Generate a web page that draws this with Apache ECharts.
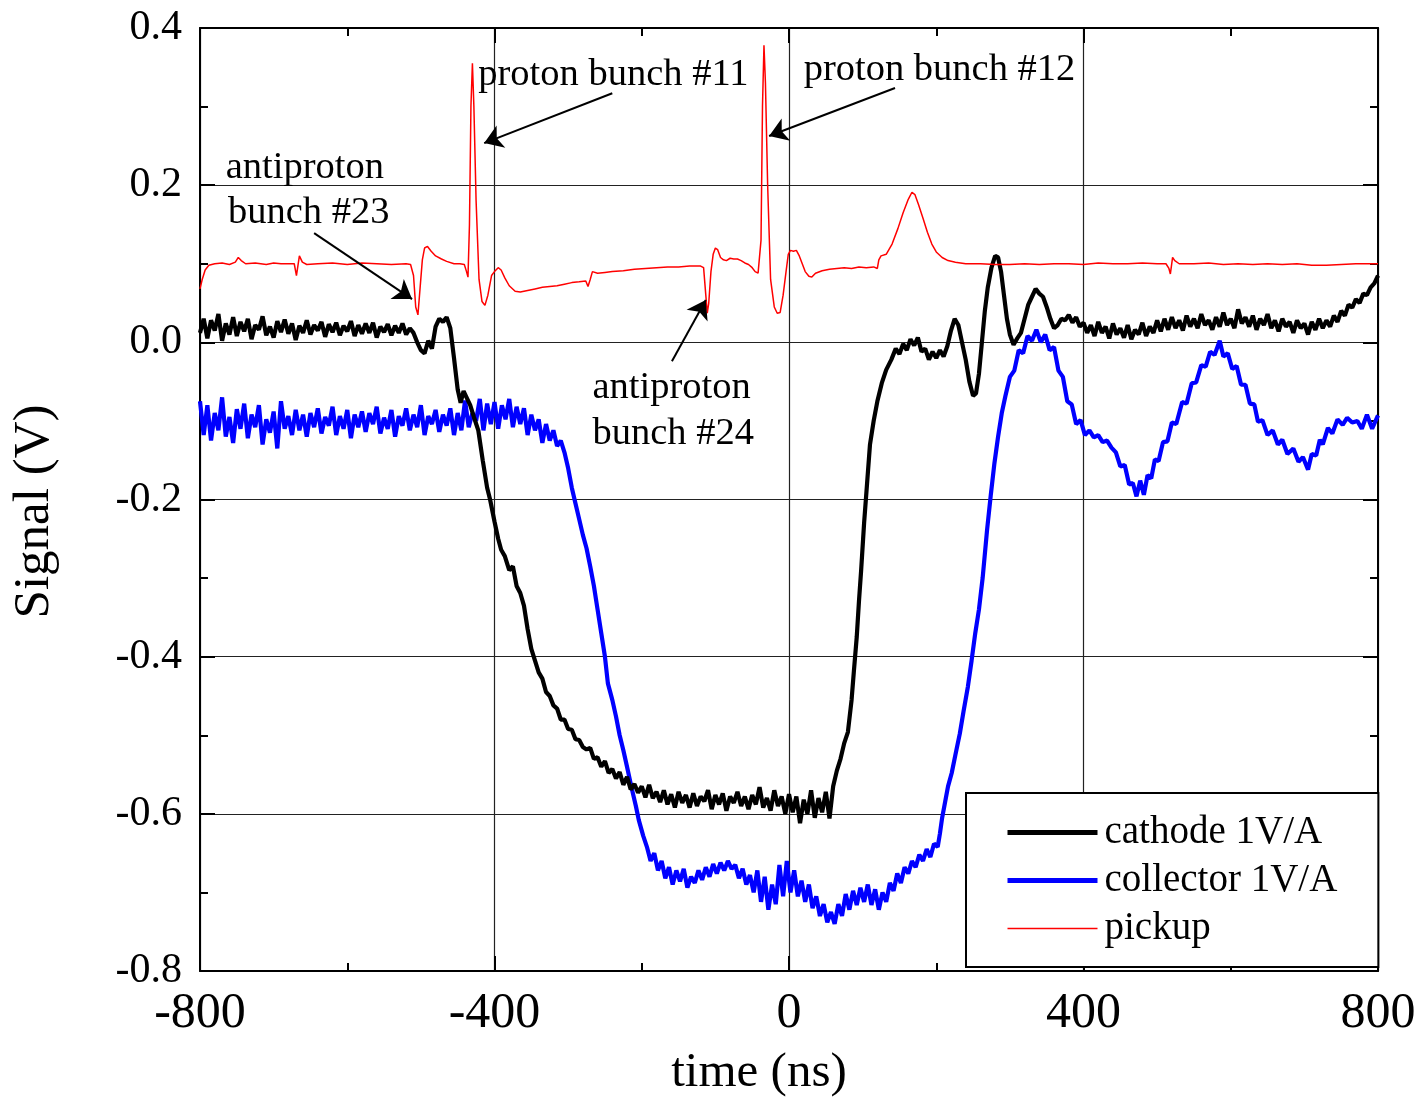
<!DOCTYPE html>
<html><head><meta charset="utf-8">
<script src="https://cdn.jsdelivr.net/npm/echarts@6/dist/echarts.min.js"></script>
<style>html,body{margin:0;padding:0;background:#fff}#c{width:1422px;height:1098px}</style>
</head><body><div id="c"></div>
<script>
// ---- data (time in ns, signal in V) ----
const cathode = [
[-800,0.012],[-795,0.030],[-790,0.005],[-785,0.028],[-780,0.015],[-775,0.036],[-770,0.002],[-765,0.024],[-760,0.010],[-755,0.032],
[-750,0.008],[-745,0.026],[-740,0.014],[-735,0.030],[-730,0.004],[-725,0.022],[-720,0.016],[-715,0.033],[-710,0.009],[-705,0.020],
[-700,0.006],[-695,0.027],[-690,0.013],[-685,0.029],[-680,0.011],[-675,0.024],[-670,0.003],[-665,0.021],[-660,0.012],[-655,0.028],
[-650,0.010],[-645,0.022],[-640,0.015],[-635,0.026],[-630,0.007],[-625,0.023],[-620,0.013],[-615,0.025],[-610,0.009],[-605,0.021],
[-600,0.014],[-595,0.027],[-590,0.008],[-585,0.022],[-580,0.011],[-575,0.024],[-570,0.012],[-565,0.025],[-560,0.006],[-555,0.020],
[-550,0.013],[-545,0.023],[-540,0.009],[-535,0.021],[-530,0.012],[-525,0.024],[-520,0.010],[-515,0.018],[-510,0.012],[-505,0.000],
[-500,-0.010],[-495,-0.014],[-490,0.002],[-485,-0.008],[-480,0.020],[-475,0.030],[-470,0.026],[-465,0.032],[-460,0.018],[-455,-0.020],
[-450,-0.060],[-446,-0.077],[-442,-0.062],[-438,-0.070],[-433,-0.080],[-428,-0.095],[-422,-0.112],[-416,-0.150],[-410,-0.185],[-406,-0.200],
[-400,-0.228],[-395,-0.250],[-391,-0.264],[-386,-0.272],[-380,-0.290],[-375,-0.285],[-370,-0.310],[-365,-0.319],[-360,-0.335],[-355,-0.365],
[-350,-0.390],[-345,-0.405],[-340,-0.420],[-335,-0.428],[-330,-0.445],[-325,-0.450],[-320,-0.462],[-315,-0.466],[-310,-0.480],[-305,-0.480],
[-300,-0.492],[-295,-0.493],[-290,-0.505],[-285,-0.506],[-280,-0.515],[-275,-0.518],[-270,-0.516],[-265,-0.530],[-260,-0.528],[-255,-0.540],
[-250,-0.533],[-245,-0.548],[-240,-0.543],[-235,-0.555],[-230,-0.547],[-225,-0.563],[-220,-0.553],[-215,-0.569],[-210,-0.562],[-205,-0.573],
[-200,-0.565],[-195,-0.579],[-190,-0.563],[-185,-0.580],[-180,-0.572],[-175,-0.585],[-170,-0.570],[-165,-0.588],[-160,-0.575],[-155,-0.592],
[-150,-0.572],[-145,-0.586],[-140,-0.576],[-135,-0.592],[-130,-0.574],[-125,-0.590],[-120,-0.578],[-115,-0.584],[-110,-0.570],[-105,-0.594],
[-100,-0.576],[-95,-0.588],[-90,-0.574],[-85,-0.596],[-80,-0.578],[-75,-0.586],[-70,-0.572],[-65,-0.590],[-60,-0.578],[-55,-0.594],
[-50,-0.576],[-45,-0.588],[-40,-0.566],[-35,-0.592],[-30,-0.580],[-25,-0.596],[-20,-0.570],[-15,-0.590],[-10,-0.578],[-5,-0.600],
[0,-0.575],[5,-0.598],[10,-0.578],[15,-0.612],[20,-0.582],[25,-0.600],[30,-0.570],[35,-0.605],[40,-0.580],[45,-0.598],
[50,-0.572],[55,-0.606],[60,-0.565],[65,-0.545],[70,-0.530],[75,-0.510],[80,-0.496],[85,-0.455],[88,-0.420],[92,-0.375],
[95,-0.330],[98,-0.290],[102,-0.230],[106,-0.180],[110,-0.130],[115,-0.100],[120,-0.075],[126,-0.052],[132,-0.035],[139,-0.022],
[145,-0.008],[150,-0.015],[155,-0.002],[160,-0.010],[165,0.004],[170,-0.004],[175,0.006],[180,-0.012],[185,-0.008],[190,-0.022],
[195,-0.012],[200,-0.020],[205,-0.010],[210,-0.018],[215,-0.005],[220,0.015],[225,0.030],[230,0.022],[235,0.000],[240,-0.022],
[245,-0.050],[250,-0.068],[254,-0.065],[258,-0.040],[262,0.000],[266,0.040],[270,0.070],[275,0.095],[280,0.110],[284,0.108],
[288,0.090],[292,0.060],[296,0.030],[300,0.010],[305,-0.003],[310,0.005],[315,0.012],[320,0.030],[325,0.048],[330,0.058],
[335,0.068],[340,0.062],[345,0.058],[350,0.045],[355,0.030],[360,0.018],[365,0.022],[370,0.030],[375,0.028],[380,0.035],
[385,0.025],[390,0.032],[395,0.020],[400,0.025],[405,0.012],[410,0.022],[415,0.008],[420,0.026],[425,0.012],[430,0.020],
[435,0.005],[440,0.024],[445,0.010],[450,0.018],[455,0.006],[460,0.022],[465,0.004],[470,0.016],[475,0.010],[480,0.025],
[485,0.008],[490,0.020],[495,0.012],[500,0.028],[505,0.014],[510,0.030],[515,0.016],[520,0.032],[525,0.018],[530,0.028],
[535,0.015],[540,0.034],[545,0.020],[550,0.030],[555,0.018],[560,0.036],[565,0.022],[570,0.028],[575,0.016],[580,0.032],
[585,0.020],[590,0.038],[595,0.022],[600,0.030],[605,0.018],[610,0.042],[615,0.024],[620,0.032],[625,0.020],[630,0.034],
[635,0.016],[640,0.030],[645,0.022],[650,0.036],[655,0.018],[660,0.028],[665,0.014],[670,0.030],[675,0.020],[680,0.026],
[685,0.012],[690,0.028],[695,0.018],[700,0.024],[705,0.010],[710,0.026],[715,0.016],[720,0.030],[725,0.018],[730,0.028],
[735,0.020],[740,0.034],[745,0.026],[750,0.040],[755,0.034],[760,0.048],[765,0.044],[770,0.055],[775,0.050],[780,0.062],
[785,0.060],[790,0.070],[795,0.075],[800,0.085]
];
const collector = [
[-800,-0.075],[-795,-0.118],[-790,-0.080],[-785,-0.125],[-780,-0.090],[-775,-0.112],[-770,-0.070],[-765,-0.120],[-760,-0.095],[-755,-0.128],
[-750,-0.085],[-745,-0.110],[-740,-0.078],[-735,-0.122],[-730,-0.092],[-725,-0.108],[-720,-0.080],[-715,-0.130],[-710,-0.098],[-705,-0.115],
[-700,-0.088],[-695,-0.135],[-690,-0.075],[-685,-0.110],[-680,-0.094],[-675,-0.118],[-670,-0.086],[-665,-0.112],[-660,-0.092],[-655,-0.120],
[-650,-0.090],[-645,-0.108],[-640,-0.084],[-635,-0.116],[-630,-0.095],[-625,-0.106],[-620,-0.082],[-615,-0.118],[-610,-0.094],[-605,-0.110],
[-600,-0.086],[-595,-0.122],[-590,-0.092],[-585,-0.108],[-580,-0.088],[-575,-0.114],[-570,-0.090],[-565,-0.104],[-560,-0.082],[-555,-0.116],
[-550,-0.096],[-545,-0.110],[-540,-0.086],[-535,-0.120],[-530,-0.094],[-525,-0.106],[-520,-0.084],[-515,-0.112],[-510,-0.092],[-505,-0.108],
[-500,-0.080],[-495,-0.118],[-490,-0.094],[-485,-0.104],[-480,-0.086],[-475,-0.114],[-470,-0.092],[-465,-0.106],[-460,-0.084],[-455,-0.118],
[-450,-0.090],[-445,-0.112],[-440,-0.074],[-435,-0.108],[-430,-0.090],[-425,-0.100],[-420,-0.072],[-415,-0.112],[-410,-0.078],[-405,-0.104],
[-400,-0.076],[-395,-0.110],[-390,-0.080],[-385,-0.098],[-380,-0.072],[-375,-0.108],[-370,-0.082],[-365,-0.104],[-360,-0.084],[-355,-0.118],
[-350,-0.092],[-345,-0.112],[-340,-0.098],[-335,-0.128],[-330,-0.104],[-325,-0.125],[-320,-0.112],[-315,-0.132],[-310,-0.125],[-305,-0.140],
[-300,-0.160],[-295,-0.185],[-290,-0.205],[-285,-0.225],[-280,-0.245],[-275,-0.262],[-270,-0.285],[-265,-0.310],[-260,-0.340],[-255,-0.370],
[-250,-0.400],[-246,-0.434],[-240,-0.455],[-235,-0.476],[-230,-0.500],[-225,-0.519],[-220,-0.540],[-214,-0.566],[-208,-0.590],[-204,-0.608],
[-198,-0.628],[-193,-0.642],[-188,-0.660],[-183,-0.650],[-178,-0.672],[-173,-0.660],[-168,-0.682],[-163,-0.668],[-158,-0.690],[-153,-0.672],
[-148,-0.686],[-143,-0.670],[-138,-0.694],[-133,-0.680],[-128,-0.688],[-123,-0.672],[-118,-0.684],[-113,-0.668],[-108,-0.680],[-103,-0.664],
[-98,-0.676],[-93,-0.662],[-88,-0.672],[-83,-0.660],[-78,-0.670],[-73,-0.665],[-68,-0.682],[-63,-0.670],[-58,-0.690],[-53,-0.678],
[-48,-0.700],[-43,-0.672],[-38,-0.712],[-33,-0.680],[-28,-0.722],[-23,-0.690],[-18,-0.715],[-13,-0.665],[-8,-0.705],[-3,-0.660],
[2,-0.700],[7,-0.672],[12,-0.705],[17,-0.685],[22,-0.712],[27,-0.690],[32,-0.720],[37,-0.705],[42,-0.730],[47,-0.715],
[52,-0.738],[57,-0.725],[62,-0.740],[67,-0.715],[72,-0.730],[77,-0.702],[82,-0.722],[87,-0.698],[92,-0.716],[97,-0.694],
[102,-0.712],[107,-0.690],[112,-0.716],[117,-0.696],[122,-0.722],[127,-0.700],[132,-0.712],[137,-0.688],[142,-0.698],[147,-0.676],
[152,-0.688],[157,-0.668],[162,-0.676],[167,-0.660],[172,-0.668],[177,-0.652],[182,-0.660],[187,-0.645],[192,-0.655],[197,-0.638],
[202,-0.642],[205,-0.625],[208,-0.605],[212,-0.585],[216,-0.565],[221,-0.548],[226,-0.525],[232,-0.498],[237,-0.470],[243,-0.438],
[248,-0.405],[253,-0.370],[258,-0.340],[263,-0.300],[269,-0.239],[274,-0.195],[279,-0.154],[284,-0.120],[289,-0.090],[294,-0.068],
[300,-0.044],[306,-0.036],[312,-0.010],[318,-0.014],[324,0.008],[330,0.002],[336,0.016],[342,0.000],[348,0.010],[354,-0.010],
[360,-0.006],[366,-0.036],[372,-0.044],[378,-0.075],[384,-0.079],[390,-0.104],[396,-0.099],[402,-0.118],[408,-0.112],[414,-0.121],
[420,-0.118],[426,-0.127],[432,-0.125],[438,-0.134],[444,-0.140],[450,-0.158],[456,-0.156],[462,-0.181],[467,-0.179],[472,-0.196],
[477,-0.176],[482,-0.194],[487,-0.169],[492,-0.173],[497,-0.149],[502,-0.151],[508,-0.127],[514,-0.126],[520,-0.102],[526,-0.104],
[534,-0.076],[540,-0.078],[547,-0.052],[553,-0.051],[560,-0.029],[566,-0.031],[572,-0.012],[578,-0.016],[585,0.002],[590,-0.018],
[596,-0.014],[602,-0.034],[608,-0.030],[614,-0.054],[620,-0.054],[626,-0.078],[632,-0.079],[637,-0.101],[643,-0.099],[650,-0.118],
[657,-0.112],[664,-0.130],[670,-0.124],[677,-0.142],[685,-0.135],[692,-0.152],[698,-0.146],[705,-0.162],[710,-0.142],[716,-0.144],
[721,-0.124],[725,-0.130],[732,-0.109],[738,-0.116],[745,-0.098],[752,-0.105],[758,-0.096],[765,-0.102],[772,-0.100],[778,-0.110],
[785,-0.092],[792,-0.110],[800,-0.093]
];
const pickup = [
[-800,0.068],[-797,0.080],[-793,0.092],[-788,0.098],[-780,0.100],[-770,0.101],[-760,0.099],[-752,0.102],[-748,0.108],[-744,0.104],
[-738,0.100],[-725,0.101],[-710,0.099],[-700,0.101],[-690,0.100],[-672,0.100],[-669,0.085],[-665,0.110],[-661,0.102],[-655,0.099],
[-640,0.100],[-620,0.101],[-600,0.099],[-580,0.101],[-560,0.100],[-540,0.099],[-520,0.100],[-514,0.099],[-510,0.085],[-507,0.045],
[-504,0.035],[-501,0.070],[-498,0.105],[-495,0.120],[-491,0.122],[-486,0.116],[-480,0.110],[-472,0.106],[-465,0.103],[-455,0.100],
[-447,0.100],[-441,0.099],[-438,0.090],[-436,0.083],[-434,0.150],[-432,0.300],[-430,0.355],[-428,0.300],[-425,0.180],[-421,0.080],
[-417,0.052],[-413,0.047],[-409,0.060],[-404,0.085],[-400,0.090],[-395,0.095],[-391,0.092],[-386,0.082],[-380,0.072],[-372,0.065],
[-365,0.064],[-355,0.066],[-345,0.068],[-335,0.070],[-325,0.071],[-315,0.072],[-305,0.074],[-295,0.076],[-285,0.077],[-276,0.078],
[-273,0.071],[-270,0.080],[-267,0.090],[-260,0.088],[-250,0.089],[-240,0.090],[-225,0.091],[-210,0.093],[-195,0.094],[-180,0.095],
[-165,0.096],[-150,0.096],[-135,0.097],[-120,0.097],[-116,0.095],[-113,0.060],[-111,0.037],[-109,0.050],[-106,0.090],[-103,0.112],
[-100,0.120],[-97,0.118],[-93,0.108],[-89,0.105],[-85,0.104],[-80,0.107],[-75,0.106],[-70,0.106],[-65,0.104],[-60,0.101],
[-55,0.099],[-50,0.095],[-46,0.090],[-42,0.088],[-40,0.090],[-38,0.130],[-36,0.300],[-34,0.378],[-32,0.330],[-29,0.200],
[-25,0.080],[-20,0.045],[-16,0.037],[-12,0.038],[-8,0.060],[-4,0.090],[-1,0.112],[2,0.117],[6,0.116],[10,0.117],
[14,0.110],[18,0.100],[22,0.090],[27,0.084],[31,0.083],[36,0.088],[45,0.091],[55,0.093],[65,0.094],[75,0.095],
[85,0.094],[95,0.096],[105,0.095],[115,0.096],[120,0.094],[122,0.105],[125,0.110],[132,0.112],[140,0.125],[148,0.145],
[155,0.165],[162,0.182],[167,0.191],[171,0.188],[176,0.175],[182,0.158],[188,0.140],[194,0.125],[200,0.115],[208,0.108],
[216,0.104],[226,0.102],[240,0.100],[260,0.100],[280,0.099],[300,0.099],[320,0.100],[340,0.099],[360,0.100],[380,0.100],
[400,0.099],[420,0.101],[440,0.100],[460,0.100],[480,0.101],[500,0.100],[512,0.100],[516,0.094],[518,0.087],[521,0.108],
[524,0.104],[530,0.100],[550,0.100],[570,0.101],[590,0.099],[610,0.100],[630,0.099],[650,0.100],[670,0.099],[690,0.100],
[710,0.098],[730,0.098],[750,0.099],[770,0.100],[790,0.100],[800,0.100]
];
const seriesNames = ['cathode 1V/A', 'collector 1V/A', 'pickup'];
const seriesColors = ['#000000', '#0000ff', '#ff0000'];
// annotation texts: [text, time, signal] (left edge / vertical middle)
const labelTexts = [
  ['proton bunch #11', -422, 0.340],
  ['proton bunch #12', 20, 0.3465],
  ['antiproton', -765, 0.222],
  ['bunch #23', -762, 0.1645],
  ['antiproton', -267, -0.058],
  ['bunch #24', -267, -0.1165]
];
// arrows: [fromTime, fromSignal, toTime, toSignal]
const arrowLines = [
  [-240, 0.317, -414, 0.2535],
  [144, 0.3236, -27, 0.2625],
  [-645, 0.139, -512, 0.055],
  [-159, -0.024, -113, 0.054]
];

const FONT = 'Liberation Serif';
const chart = echarts.init(document.getElementById('c'), null, {renderer: 'canvas'});

const tickStyle = {color: '#000', width: 2};
const hiddenDot = {color: 'rgba(0,0,0,0)', borderWidth: 0, opacity: 0};
const option = {
  animation: false,
  backgroundColor: '#fff',
  grid: {left: 200, top: 28, width: 1178, height: 943, containLabel: false, outerBoundsMode: 'none'},
  xAxis: [{
    type: 'value', position: 'bottom', min: -800, max: 800, interval: 400,
    axisLine: {show: true, onZero: false, lineStyle: {color: '#000', width: 2}},
    axisTick: {show: true, inside: true, length: 15, lineStyle: tickStyle},
    minorTick: {show: true, splitNumber: 2, length: 8, lineStyle: tickStyle},
    splitLine: {show: true, lineStyle: {color: '#222', width: 1.2}},
    axisLabel: {fontFamily: FONT, fontSize: 50, color: '#000', margin: 18, formatter: v => String(v)},
    name: 'time (ns)', nameLocation: 'middle', nameGap: 78,
    nameTextStyle: {fontFamily: FONT, fontSize: 49, color: '#000', padding: [0, 60, 0, 0]}
  }, {
    type: 'value', position: 'top', min: -800, max: 800, interval: 400,
    axisLine: {show: true, onZero: false, lineStyle: {color: '#000', width: 2}},
    axisTick: {show: true, inside: true, length: 15, lineStyle: tickStyle},
    minorTick: {show: true, splitNumber: 2, length: 8, lineStyle: tickStyle},
    splitLine: {show: false}, axisLabel: {show: false}
  }],
  yAxis: [{
    type: 'value', position: 'left', min: -0.8, max: 0.4, interval: 0.2,
    axisLine: {show: true, onZero: false, lineStyle: {color: '#000', width: 2}},
    axisTick: {show: true, inside: true, length: 15, lineStyle: tickStyle},
    minorTick: {show: true, splitNumber: 2, length: 8, lineStyle: tickStyle},
    splitLine: {show: true, lineStyle: {color: '#222', width: 1.2}},
    axisLabel: {fontFamily: FONT, fontSize: 42, color: '#000', margin: 18,
      formatter: v => (Math.abs(v) < 1e-9 ? 0 : v).toFixed(1)},
    name: 'Signal (V)', nameLocation: 'middle', nameGap: 140, nameRotate: 90,
    nameTextStyle: {fontFamily: FONT, fontSize: 51, color: '#000', padding: [0, 24, 0, 0]}
  }, {
    type: 'value', position: 'right', min: -0.8, max: 0.4, interval: 0.2,
    axisLine: {show: true, onZero: false, lineStyle: {color: '#000', width: 2}},
    axisTick: {show: true, inside: true, length: 15, lineStyle: tickStyle},
    minorTick: {show: true, splitNumber: 2, length: 8, lineStyle: tickStyle},
    splitLine: {show: false}, axisLabel: {show: false}
  }],
  legend: {
    orient: 'vertical', left: 966, top: 793,
    padding: [20, 41, 19, 39],
    itemWidth: 90, itemHeight: 14, itemGap: 9,
    backgroundColor: '#fff', borderColor: '#000', borderWidth: 2, borderRadius: 0,
    textStyle: {fontFamily: FONT, fontSize: 39, color: '#000', lineHeight: 39, padding: [0, 0, 0, 2]},
    data: [
      {name: seriesNames[0], lineStyle: {width: 5, color: seriesColors[0]}, itemStyle: hiddenDot},
      {name: seriesNames[1], lineStyle: {width: 5, color: seriesColors[1]}, itemStyle: hiddenDot},
      {name: seriesNames[2], lineStyle: {width: 1.5, color: seriesColors[2]}, itemStyle: hiddenDot}
    ],
    z: 10
  },
  series: [
    {name: seriesNames[0], type: 'line', data: cathode, symbol: 'none', showSymbol: false,
     lineStyle: {color: seriesColors[0], width: 4.2}, itemStyle: {color: seriesColors[0]}, z: 3},
    {name: seriesNames[1], type: 'line', data: collector, symbol: 'none', showSymbol: false,
     lineStyle: {color: seriesColors[1], width: 4.2}, itemStyle: {color: seriesColors[1]}, z: 2},
    {name: seriesNames[2], type: 'line', data: pickup, symbol: 'none', showSymbol: false,
     lineStyle: {color: seriesColors[2], width: 1.5}, itemStyle: {color: seriesColors[2]}, z: 4,
     markLine: {
       silent: true, symbol: ['none', 'arrow'], symbolSize: 18,
       lineStyle: {color: '#000', width: 2, type: 'solid'},
       label: {show: false},
       emphasis: {disabled: true},
       data: arrowLines.map(a => [{coord: [a[0], a[1]]}, {coord: [a[2], a[3]]}])
     }}
  ]
};
chart.setOption(option);

const graphics = labelTexts.map(t => {
  const p = chart.convertToPixel({gridIndex: 0}, [t[1], t[2]]);
  return {
    type: 'text', x: p[0], y: p[1], z: 20, silent: true,
    style: {text: t[0], fontFamily: FONT, fontSize: 38.5,
            fill: '#000', align: 'left', verticalAlign: 'middle'}
  };
});
chart.setOption({graphic: graphics});
</script>
</body></html>
